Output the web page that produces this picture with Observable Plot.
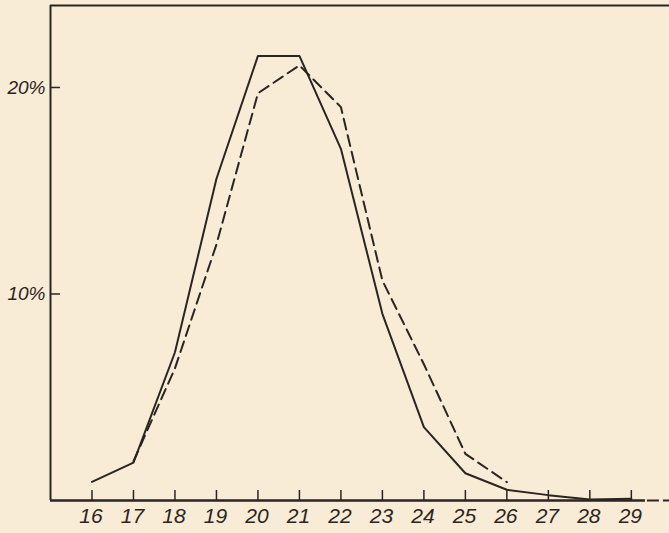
<!DOCTYPE html>
<html>
<head>
<meta charset="utf-8">
<script src="https://cdn.jsdelivr.net/npm/d3@7"></script>
<script src="https://cdn.jsdelivr.net/npm/@observablehq/plot@0.6"></script>
<style>
  html, body { margin: 0; padding: 0; background: #f8ecd7; }
  #chart svg { display: block; }
</style>
</head>
<body>
<div id="chart"></div>
<script>
// Ages (x categories) and percentages
const agesSolid = [16, 17, 18, 19, 20, 21, 22, 23, 24, 25, 26, 27, 28, 29];
const valuesSolid = [0.9, 1.83, 7.18, 15.58, 21.53, 21.53, 17.03, 9.04, 3.55, 1.32, 0.52, 0.26, 0.05, 0.08];

const agesDashed = [17, 18, 19, 20, 21, 22, 23, 24, 25, 26];
const valuesDashed = [1.9, 6.4, 12.4, 19.72, 21.07, 19.05, 10.65, 6.6, 2.26, 0.89];

const xTicks = [16, 17, 18, 19, 20, 21, 22, 23, 24, 25, 26, 27, 28, 29];
const yTicks = [10, 20];
const yTickLabels = ["10%", "20%"];

const ink = "#2b2522";
const solid = agesSolid.map((a, i) => ({age: a, pct: valuesSolid[i]}));
const dashed = agesDashed.map((a, i) => ({age: a, pct: valuesDashed[i]}));

const xDomain = [15, 29.92];
const yDomain = [0, 23.97];
const axisSolidEnd = 29.34;

const chart = Plot.plot({
  width: 669,
  height: 533,
  marginLeft: 50,
  marginRight: 0,
  marginTop: 5,
  marginBottom: 33,
  style: {background: "#f8ecd7", color: ink, fontFamily: "'Liberation Sans', 'DejaVu Sans', sans-serif", fontStyle: "italic"},
  x: {domain: xDomain, label: null, axis: null},
  y: {domain: yDomain, label: null, axis: null},
  marks: [
    // frame: top, left, bottom (bottom fades into a dashed stub at the right)
    Plot.ruleY([yDomain[1]], {stroke: ink, strokeWidth: 2}),
    Plot.ruleX([xDomain[0]], {stroke: ink, strokeWidth: 2}),
    Plot.ruleY([0], {x1: xDomain[0], x2: axisSolidEnd, stroke: ink, strokeWidth: 2.4}),
    Plot.ruleY([0], {x1: axisSolidEnd, x2: xDomain[1], stroke: ink, strokeWidth: 2, strokeDasharray: "12,4", dx: 2}),
    // inward ticks
    Plot.axisX({ticks: xTicks, tickSize: -10, text: null, label: null, stroke: ink, strokeWidth: 1.5}),
    Plot.axisY({ticks: yTicks, tickSize: -10, text: null, label: null, stroke: ink, strokeWidth: 1.5}),
    // tick labels
    Plot.text(xTicks, {
      x: d => d, frameAnchor: "bottom", dy: 16, dx: -1, lineAnchor: "middle",
      text: d => String(d), fontSize: 21, fill: ink,
      fontFamily: "'Liberation Sans Narrow', 'Liberation Sans', sans-serif", fontStyle: "italic"
    }),
    Plot.text(yTicks, {
      y: d => d, frameAnchor: "left", dx: -5, textAnchor: "end", lineAnchor: "middle",
      text: (d, i) => yTickLabels[i], fontSize: 19, fill: ink,
      fontFamily: "'Liberation Sans', sans-serif", fontStyle: "italic"
    }),
    // series
    Plot.line(dashed, {x: "age", y: "pct", stroke: ink, strokeWidth: 2, strokeDasharray: "11,6"}),
    Plot.line(solid, {x: "age", y: "pct", stroke: ink, strokeWidth: 2})
  ]
});
document.getElementById("chart").appendChild(chart);
</script>
</body>
</html>
